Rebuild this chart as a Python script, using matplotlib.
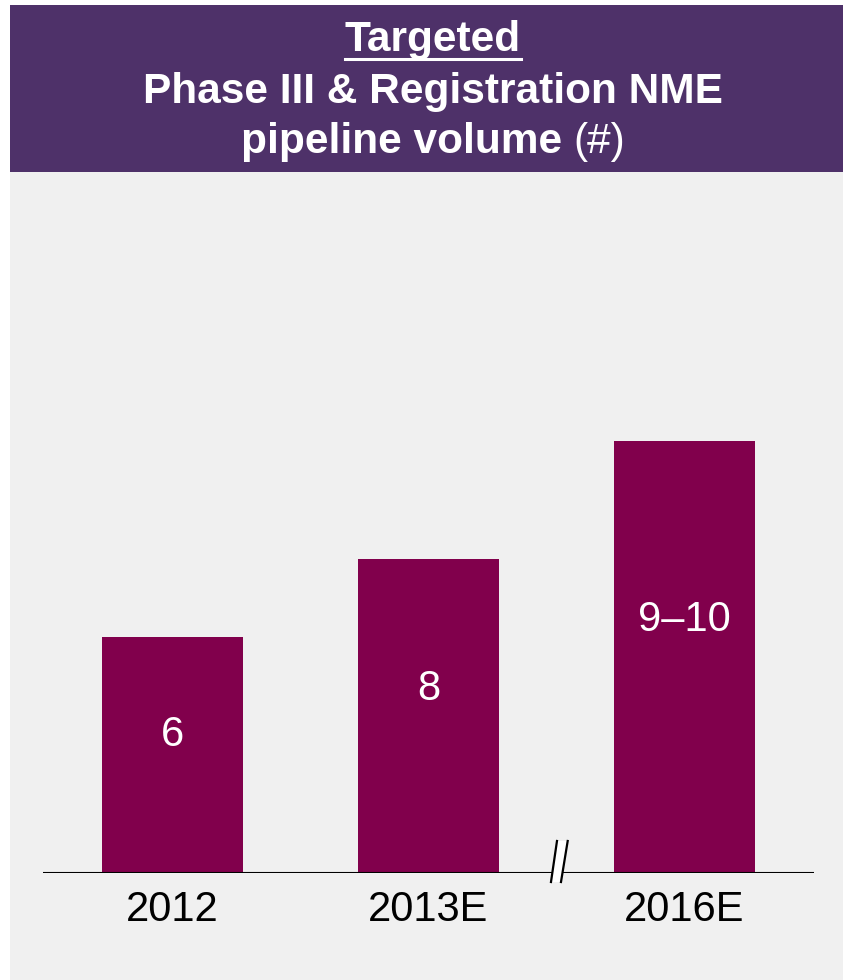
import matplotlib
matplotlib.use("Agg")
import matplotlib.pyplot as plt
from matplotlib.patches import Rectangle, Polygon
from matplotlib.lines import Line2D
import matplotlib.transforms as mtransforms

# ---- data ----
categories = ["2012", "2013E", "2016E"]
bar_heights = [6, 8, 11]
bar_labels = ["6", "8", "9\u201310"]
title_line1 = "Targeted"
title_line2 = "Phase III & Registration NME"
title_line3_bold = "pipeline volume "
title_line3_reg = "(#)"

# ---- style ----
W, H = 843, 980
DPI = 100
HEADER = "#4e3169"
BAR = "#81004c"
BG = "#f0f0f0"
FONT = "Liberation Sans"
FS = 30
FS_T = 30.5

fig = plt.figure(figsize=(W / DPI, H / DPI), dpi=DPI, facecolor="white")

def px_rect(x0, y0, x1, y1, color):
    fig.patches.append(Rectangle((x0 / W, 1 - y1 / H), (x1 - x0) / W, (y1 - y0) / H,
                                 transform=fig.transFigure, facecolor=color,
                                 edgecolor="none", zorder=-10))

px_rect(10, 5, W, 172, HEADER)
px_rect(10, 172, W, H, BG)

# title
CX = 433
cx = CX / W
t1 = fig.text(cx, 1 - 40 / H, title_line1, ha="center", va="center", color="white",
              fontsize=FS_T, fontweight="bold", family=FONT)
fig.text(cx, 1 - 92 / H, title_line2, ha="center", va="center", color="white",
         fontsize=FS_T, fontweight="bold", family=FONT)
t3a = fig.text(0, 1 - 142 / H, title_line3_bold, ha="left", va="center", color="white",
               fontsize=FS_T, fontweight="bold", family=FONT)
t3b = fig.text(0, 1 - 142 / H, title_line3_reg, ha="left", va="center", color="white",
               fontsize=FS_T, fontweight="normal", family=FONT)

renderer = fig.canvas.get_renderer()
wa = t3a.get_window_extent(renderer).width
wb = t3b.get_window_extent(renderer).width
start = CX - (wa + wb) / 2
t3a.set_x(start / W)
t3b.set_x((start + wa) / W)

# underline for "Targeted"
bb = t1.get_window_extent(renderer)
fig.lines.append(Line2D([bb.x0 / W, bb.x1 / W], [1 - 59.5 / H, 1 - 59.5 / H],
                        transform=fig.transFigure, color="white", lw=2.2))

# axes
base_y = 873
top_y = 172
left_x, right_x = 43, 814
ax = fig.add_axes([left_x / W, 1 - base_y / H, (right_x - left_x) / W, (base_y - top_y) / H])
ax.set_facecolor("none")
for s in ax.spines.values():
    s.set_visible(False)
px_per_unit = 39.3
ax.set_ylim(0, (base_y - top_y) / px_per_unit)
ax.set_xlim(-0.506, 2.506)

x = list(range(len(categories)))
ax.bar(x, bar_heights, width=0.55, color=BAR, edgecolor="none", zorder=2)
for xi, h, lab in zip(x, bar_heights, bar_labels):
    ax.text(xi, h * 0.585, lab, ha="center", va="center", color="white",
            fontsize=FS, family=FONT, zorder=3)

ax.axhline(0, color="black", lw=1.5, zorder=3)
ax.set_xticks(x)
ax.set_xticklabels(categories, fontsize=FS, family=FONT, color="black")
ax.tick_params(axis="x", length=0, pad=12)
ax.set_yticks([])

# axis break mark between 2013E and 2016E
trans = fig.dpi_scale_trans + mtransforms.ScaledTranslation(1.5, 0, ax.transData)
pts = [(-5.5, -9), (0.5, 32), (11.2, 32), (4.5, -9)]
pts_in = [(a / DPI, b / DPI) for a, b in pts]
ax.add_patch(Polygon(pts_in, closed=True, transform=trans, facecolor="white",
                     edgecolor="none", zorder=4, clip_on=False))
ax.add_line(Line2D([pts_in[0][0], pts_in[1][0]], [pts_in[0][1], pts_in[1][1]],
                   transform=trans, color="black", lw=1.6, zorder=5, clip_on=False))
ax.add_line(Line2D([pts_in[3][0], pts_in[2][0]], [pts_in[3][1], pts_in[2][1]],
                   transform=trans, color="black", lw=1.6, zorder=5, clip_on=False))

fig.savefig("out.png", dpi=DPI, facecolor="white")
